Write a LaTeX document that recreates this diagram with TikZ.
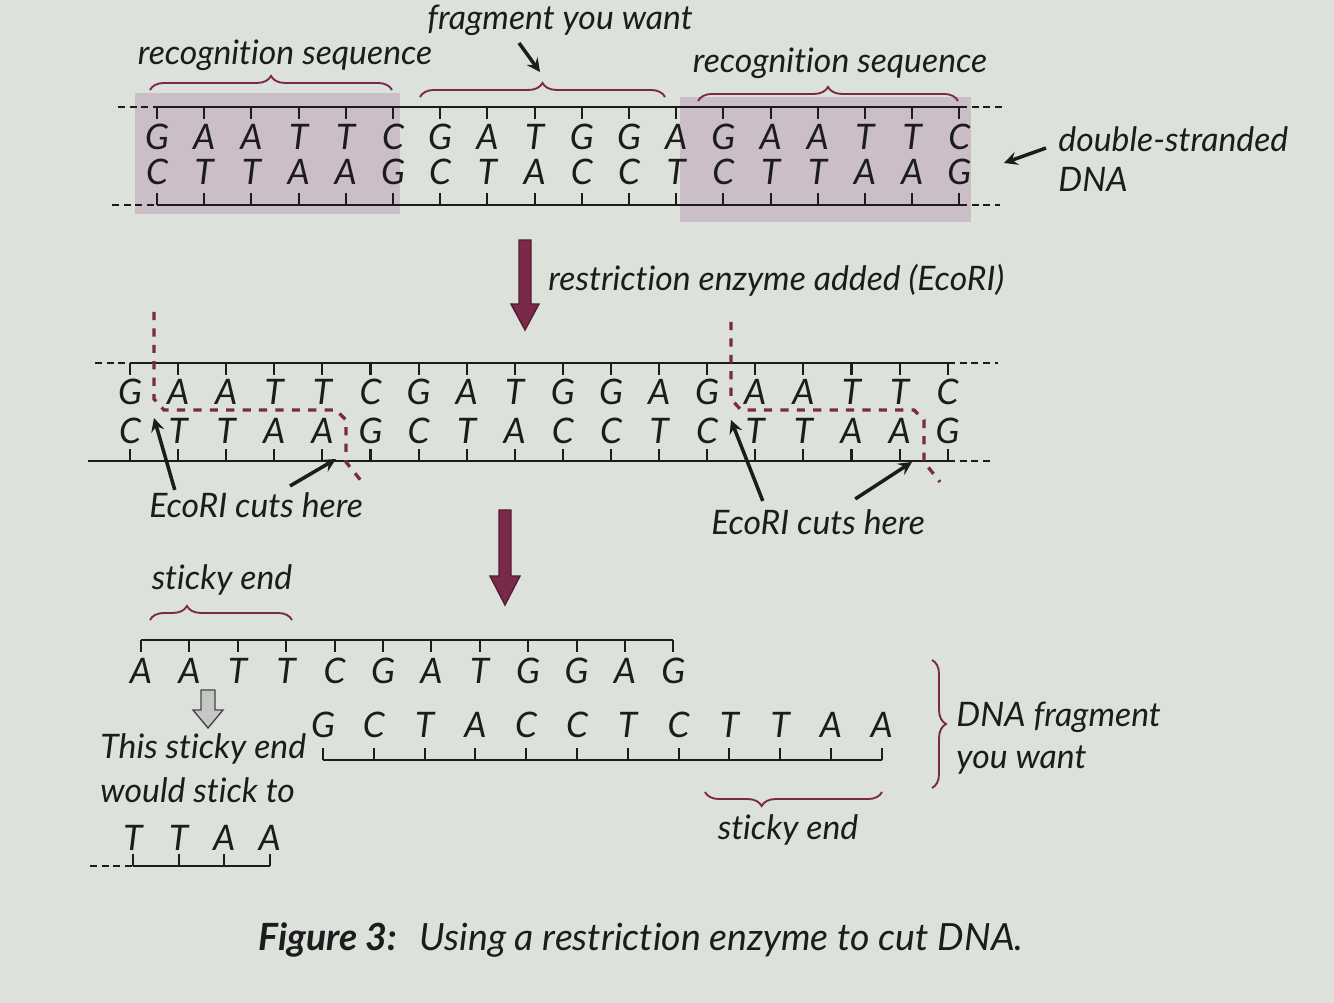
\documentclass[tikz,border=0pt]{standalone}
\usepackage{fontspec}
\setmainfont{Lato}[Ligatures={NoCommon,NoContextual}, RawFeature={-liga;-clig;-calt;-dlig}]
\usepackage{xcolor}
\usepackage{tikz}
\usetikzlibrary{arrows, positioning, calc, decorations.pathreplacing}
\definecolor{paper}{HTML}{DCE1DB}
\definecolor{boxshade}{HTML}{CBBEC6}
\definecolor{wine}{HTML}{7A2A48}
\definecolor{ink}{HTML}{1C1C1C}
\tikzstyle{nuc} = [font=\itshape\fontsize{15}{15}\selectfont, text=ink, inner sep=0pt]
\tikzstyle{txt} = [font=\itshape\fontsize{14.4}{18}\selectfont, text=ink, inner sep=0pt, align=left]
\tikzstyle{strand} = [ink, line width=1.2pt]
\tikzstyle{rung} = [ink, line width=0.9pt]
\tikzstyle{loose} = [ink, line width=0.6pt, densely dashed]
\tikzstyle{curly} = [wine, line width=0.8pt, decorate, decoration={brace, amplitude=6pt}]
\tikzstyle{cutline} = [wine, line width=1.4pt, dash pattern=on 3.5pt off 3.5pt]
\tikzstyle{arrow} = [ink, line width=1.5pt, ->, >=stealth]
\tikzstyle{bigarrow} = [fill=wine, draw=wine!70!black, line width=0.6pt]

\begin{document}
\begin{tikzpicture}[x=0.015cm, y=-0.015cm]
\fill[paper] (0,0) rectangle (1334,1003);
\useasboundingbox (0,0) rectangle (1334,1003);

% recognition sites
\fill[boxshade] (135,93) rectangle (400,214);
\fill[boxshade] (680,97) rectangle (971,222);

% uncut DNA
\draw[strand] (157,107) -- (960,107);
\draw[strand] (157,205) -- (960,205);
\draw[loose] (118,107) -- (157,107);
\draw[loose] (960,107) -- (1003,107);
\draw[loose] (112,205) -- (157,205);
\draw[loose] (960,205) -- (1000,205);
\foreach \b [count=\i from 0] in {G,A,A,T,T,C,G,A,T,G,G,A,G,A,A,T,T,C} {
  \node[nuc] (up\i) at ({157+47.2*\i},137) {\b};
  \draw[rung] ({157+47.2*\i},107) -- ++(0,12);
}
\foreach \b [count=\i from 0] in {C,T,T,A,A,G,C,T,A,C,C,T,C,T,T,A,A,G} {
  \node[nuc] (dn\i) at ({157+47.2*\i},172) {\b};
  \draw[rung] ({157+47.2*\i},205) -- ++(0,-12);
}

\draw[curly] (150,90) -- (392,90);
\draw[curly] (420,97) -- (665,97);
\draw[curly] (698,101) -- (958,101);
\node[txt] (recL) at (285,55) {recognition sequence};
\node[txt] (frag) at (560,20) {fragment you want};
\node[txt] (recR) at (840,63) {recognition sequence};
\coordinate (fragtail) at (519,43);
\coordinate (fragtip) at (540,72);
\draw[arrow] (fragtail) -- (fragtip);

\node[txt, anchor=north west, font=\itshape\fontsize{14.4}{17}\selectfont] (dsna) at (1058,126) {double-stranded\\DNA};
\coordinate (dstail) at (1046,148);
\coordinate (dsend) at (1004,163);
\draw[arrow] (dstail) -- (dsend);

% enzyme step
\coordinate (enz) at (525,240);
\filldraw[bigarrow] (enz) ++(-6,0) -- ++(12,0) -- ++(0,64) -- ++(8,0) -- ++(-14,26) -- ++(-14,-26) -- ++(8,0) -- cycle;
\node[txt, anchor=west] (enztxt) at (548,280) {restriction enzyme added (EcoRI)};

% DNA with cuts
\draw[strand] (130,363) -- (948,363);
\draw[strand] (88,461) -- (948,461);
\draw[loose] (95,363) -- (130,363);
\draw[loose] (948,363) -- (998,363);
\draw[loose] (948,461) -- (990,461);
\foreach \b [count=\i from 0] in {G,A,A,T,T,C,G,A,T,G,G,A,G,A,A,T,T,C} {
  \node[nuc] (cu\i) at ({130+48.1*\i},392) {\b};
  \draw[rung] ({130+48.1*\i},363) -- ++(0,12);
}
\foreach \b [count=\i from 0] in {C,T,T,A,A,G,C,T,A,C,C,T,C,T,T,A,A,G} {
  \node[nuc] (cd\i) at ({130+48.1*\i},431) {\b};
  \draw[rung] ({130+48.1*\i},461) -- ++(0,-12);
}
\draw[cutline] (154,312) -- (154,399) -- (164,410) -- (336,410) -- (346,420) -- (346,462) -- (362,482);
\draw[cutline] (731,322) -- (731,399) -- (741,410) -- (914,410) -- (924,420) -- (924,462) -- (940,482);

\node[txt] (ecoL) at (256,505) {EcoRI cuts here};
\node[txt] (ecoR) at (818,522) {EcoRI cuts here};
\coordinate (cutL1) at (154,418);
\coordinate (cutL2) at (336,459);
\coordinate (cutR1) at (731,420);
\coordinate (cutR2) at (912,462);
\draw[arrow] ($(ecoL.north west)+(26,-2)$) -- (cutL1);
\draw[arrow] ($(ecoL.north)+(34,-6)$) -- (cutL2);
\draw[arrow] ($(ecoR.north west)+(52,-8)$) -- (cutR1);
\draw[arrow] ($(ecoR.north east)+(-70,-10)$) -- (cutR2);

% separation step
\coordinate (sep) at (505,510);
\filldraw[bigarrow] (sep) ++(-6,0) -- ++(12,0) -- ++(0,66) -- ++(9,0) -- ++(-15,29) -- ++(-15,-29) -- ++(9,0) -- cycle;

% fragment you want
\draw[strand] (141,640) -- (673,640);
\foreach \b [count=\i from 0] in {A,A,T,T,C,G,A,T,G,G,A,G} {
  \node[nuc] (fu\i) at ({141+48.4*\i},671) {\b};
  \draw[rung] ({141+48.4*\i},640) -- ++(0,12);
}
\draw[strand] (323,760) -- (882,760);
\foreach \b [count=\i from 0] in {G,C,T,A,C,C,T,C,T,T,A,A} {
  \node[nuc] (fd\i) at ({323+50.8*\i},725) {\b};
  \draw[rung] ({323+50.8*\i},760) -- ++(0,-12);
}

\draw[curly, decoration={aspect=0.26}] (150,620) -- (292,620);
\node[txt] (stickyA) at (222,580) {sticky end};
\draw[curly, decoration={aspect=0.68}] (882,792) -- (705,792);
\node[txt] (stickyB) at (788,830) {sticky end};
\draw[curly] (932,660) -- (932,788);
\node[txt, anchor=west] (want) at (956,738) {DNA fragment\\you want};

% partner strand
\coordinate (hint) at (208,690);
\filldraw[fill=gray!45, draw=gray!55!black, line width=0.6pt] (hint) ++(-7,0) -- ++(14,0) -- ++(0,20) -- ++(8,0) -- ++(-15,18) -- ++(-15,-18) -- ++(8,0) -- cycle;
\node[txt, anchor=north west, font=\itshape\fontsize{14.4}{19}\selectfont] (stick) at (100,733) {This sticky end\\would stick to};
\draw[loose] (90,866) -- (133,866);
\draw[strand] (133,866) -- (270,866);
\foreach \b [count=\i from 0] in {T,T,A,A} {
  \node[nuc] (pa\i) at ({133+45.6*\i},838) {\b};
  \draw[rung] ({133+45.6*\i},866) -- ++(0,-12);
}

\node[anchor=west, font=\itshape\fontsize{16}{16}\selectfont, text=ink, inner sep=0pt] (caption) at (258,940) {{\bfseries Figure 3:}\hspace{0.6em}Using a restriction enzyme to cut DNA.};
\end{tikzpicture}
\end{document}
